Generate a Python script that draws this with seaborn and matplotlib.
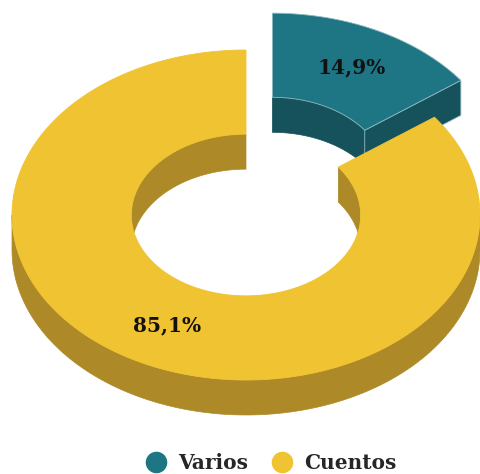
import numpy as np
import matplotlib.pyplot as plt
import seaborn as sns
from matplotlib.patches import Polygon
from matplotlib.lines import Line2D

sns.set_style('white')
plt.rcParams['font.family'] = ['DejaVu Serif']

# datos
categorias = ['Varios', 'Cuentos']
valores = [14.9, 85.1]
etiquetas = ['14,9%', '85,1%']
colores_top = ['#1E7583', '#F0C332']
colores_lado = ['#16525C', '#AD8A27']
explode = [0.25, 0.0]

# geometria del donut (en pixeles)
cx, cy = 246, 215
a, b = 234, 165
r_in = 0.49
depth = 35
r_lab = 0.75


def pt(t, rho, z, off):
    t = np.radians(t)
    return np.column_stack([cx + off[0] + a * rho * np.cos(t),
                            cy + off[1] - b * rho * np.sin(t) + z])


def cortar(lo, hi, front):
    # intervalos de [lo, hi] donde sin<0 (front) o sin>0 (back)
    res = []
    for k in range(-3, 3):
        s = k * 360 + (180 if front else 0)
        e = s + 180
        x0, x1 = max(lo, s), min(hi, e)
        if x1 > x0:
            res.append((x0, x1))
    return res


def pared(ax, t0, t1, rho, off, color):
    t = np.linspace(t0, t1, 120)
    top = pt(t, rho, 0, off)
    bot = pt(t[::-1], rho, depth, off)
    ax.add_patch(Polygon(np.vstack([top, bot]), closed=True, fc=color, ec=color, lw=0.5))


fig = plt.figure(figsize=(4.8, 4.74), dpi=100)
ax = fig.add_axes([0, 0, 1, 1])
ax.set_xlim(0, 480)
ax.set_ylim(474, 0)
ax.axis('off')

total = sum(valores)
inicio = 90.0
cortes = []
for v in valores:
    t1 = inicio
    t2 = inicio - v / total * 360
    cortes.append((t2, t1))
    inicio = t2

for i in range(len(valores)):
    t2, t1 = cortes[i]
    mid = np.radians((t1 + t2) / 2)
    off = (a * explode[i] * np.cos(mid), -b * explode[i] * np.sin(mid))
    lado = colores_lado[i]
    ec = '#8DB8BF' if i == 0 else colores_top[i]

    # pared interior (mitad de atras)
    for s, e in cortar(t2, t1, front=False):
        pared(ax, s, e, r_in, off, lado)
    # pared exterior (mitad de delante)
    for s, e in cortar(t2, t1, front=True):
        pared(ax, s, e, 1.0, off, lado)
    # caras de corte
    for t, vis in [(t1, np.cos(np.radians(t1)) < -1e-6), (t2, np.cos(np.radians(t2)) > 1e-6)]:
        if vis:
            q = np.vstack([pt([t], r_in, 0, off), pt([t], 1.0, 0, off),
                           pt([t], 1.0, depth, off), pt([t], r_in, depth, off)])
            ax.add_patch(Polygon(q, closed=True, fc=lado, ec=ec, lw=0.6))
    # cara superior
    t = np.linspace(t1, t2, 300)
    cara = np.vstack([pt(t, 1.0, 0, off), pt(t[::-1], r_in, 0, off)])
    ax.add_patch(Polygon(cara, closed=True, fc=colores_top[i], ec=ec, lw=0.6))

    lx, ly = pt([np.degrees(mid)], r_lab, 0, off)[0]
    ax.text(lx, ly, etiquetas[i], ha='center', va='center', fontsize=14.5,
            fontweight='bold', color='#111111')

handles = [Line2D([], [], marker='o', ls='', ms=14.5, mfc=c, mec=c) for c in colores_top]
ax.legend(handles, categorias, loc='center', bbox_to_anchor=(0.563, 0.024), ncol=2,
          frameon=False, handletextpad=0.5, columnspacing=1.1, handlelength=1.2,
          prop={'family': 'DejaVu Serif', 'weight': 'bold', 'size': 14.5})

fig.savefig('out.png', dpi=100)
